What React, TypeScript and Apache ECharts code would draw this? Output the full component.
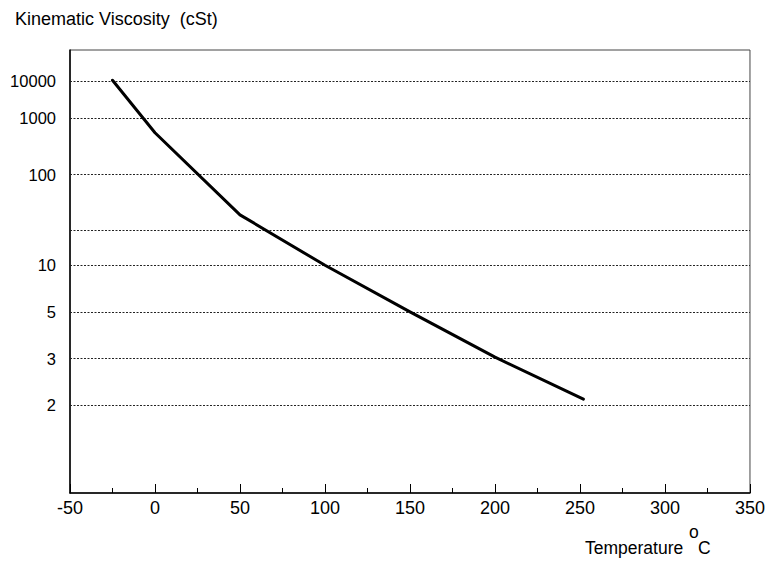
import React, { useEffect, useRef } from "react";
import * as echarts from "echarts";

// ---- data ----
const TEMPERATURES = [-25, 0, 50, 100, 150, 200, 252]; // °C
const VISCOSITIES = [10000, 520, 30, 10.2, 5, 3, 2.1]; // cSt
const GRID_VALUES = [10000, 1000, 100, 20, 10, 5, 3, 2]; // cSt gridlines
const GRID_LABELS = ["10000", "1000", "100", "", "10", "5", "3", "2"];
const Y_BOUNDS = [1.25, 100000]; // cSt at bottom / top of the plot
const X_MIN = -50;
const X_MAX = 350;
const X_STEP = 50;

// ASTM-style double-log viscosity scale
const VISC_OFFSET = 0.3;
const toScale = (v: number) => Math.log10(Math.log10(v + VISC_OFFSET));

const FONT = '"Liberation Sans", Arial, sans-serif';

export default function App() {
  const ref = useRef<HTMLDivElement>(null);

  useEffect(() => {
    if (!ref.current) return;
    const chart = echarts.init(ref.current, undefined, { renderer: "svg" });

    const lineData = TEMPERATURES.map((t, i) => [t, toScale(VISCOSITIES[i])]);
    const markData = GRID_VALUES.map((v, i) => ({
      yAxis: toScale(v),
      label: { show: GRID_LABELS[i] !== "", formatter: GRID_LABELS[i] },
    }));

    chart.setOption({
      animation: false,
      backgroundColor: "#fff",
      title: {
        text: "Kinematic Viscosity  (cSt)",
        left: 15,
        top: 10,
        padding: 0,
        textStyle: { fontFamily: FONT, fontSize: 18, fontWeight: "normal", color: "#000" },
      },
      grid: {
        left: 70,
        right: 11,
        top: 50,
        bottom: 71,
        show: true,
        borderColor: "#444",
        borderWidth: 1,
        backgroundColor: "transparent",
      },
      xAxis: {
        type: "value",
        min: X_MIN,
        max: X_MAX,
        interval: X_STEP,
        axisLine: { show: true, onZero: false, lineStyle: { color: "#000", width: 1.5 } },
        axisTick: { show: true, inside: true, length: 9, lineStyle: { color: "#000", width: 1 } },
        minorTick: { show: true, splitNumber: 2, length: 5, lineStyle: { color: "#000", width: 1 } },
        splitLine: { show: false },
        axisLabel: { fontFamily: FONT, fontSize: 18, color: "#000", margin: 6 },
      },
      yAxis: {
        type: "value",
        min: toScale(Y_BOUNDS[0]),
        max: toScale(Y_BOUNDS[1]),
        axisLine: { show: true, onZero: false, lineStyle: { color: "#000", width: 1.5 } },
        axisTick: { show: false },
        axisLabel: { show: false },
        splitLine: { show: false },
      },
      graphic: [
        {
          type: "text",
          left: 585,
          top: 539,
          style: { text: "Temperature", font: `17.5px ${FONT}`, fill: "#000" },
        },
        {
          type: "text",
          left: 689,
          top: 523,
          style: { text: "o", font: `17.5px ${FONT}`, fill: "#000" },
        },
        {
          type: "text",
          left: 698,
          top: 539,
          style: { text: "C", font: `17.5px ${FONT}`, fill: "#000" },
        },
      ],
      series: [
        {
          type: "line",
          data: lineData,
          showSymbol: false,
          symbol: "none",
          silent: true,
          lineStyle: { color: "#000", width: 3, join: "round", cap: "round" },
          z: 5,
          markLine: {
            silent: true,
            symbol: "none",
            animation: false,
            lineStyle: { color: "#222", width: 1, type: [2, 1.5] },
            label: {
              position: "start",
              distance: 14,
              fontFamily: FONT,
              fontSize: 16.5,
              color: "#000",
            },
            emphasis: { disabled: true },
            data: markData,
          },
        },
      ],
    });

    return () => chart.dispose();
  }, []);

  return (
    <div
      ref={ref}
      style={{ position: "fixed", left: 0, top: 0, width: 768, height: 564, background: "#fff" }}
    />
  );
}
